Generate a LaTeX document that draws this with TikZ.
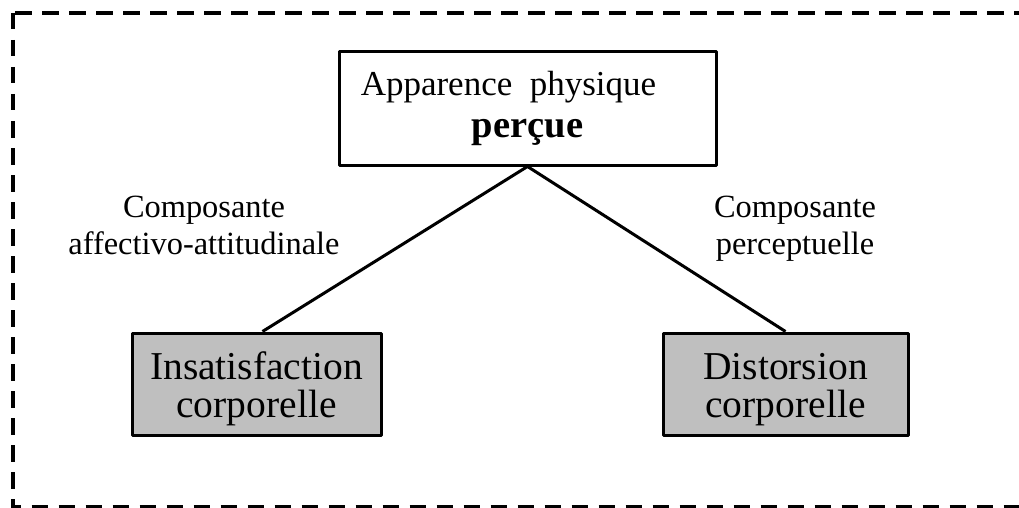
\documentclass[tikz,border=0pt]{standalone}
\usepackage{fontspec}
\setmainfont{Liberation Serif}
\begin{document}
\begin{tikzpicture}[x=1pt,y=-1pt,line join=round,
    boite/.style={draw,line width=3pt,inner sep=0pt,align=center},
    grise/.style={boite,fill=black!25,minimum height=102,font=\fontsize{39.5}{38}\selectfont},
    etiquette/.style={align=center,font=\fontsize{32.4}{37}\selectfont}]
    \def\w{249} % largeur des boites du bas
    \useasboundingbox (0,0) rectangle (1019,508);
    \begin{scope}
        \clip (0,0) rectangle (1019,508);
        \draw[line width=4pt,dash pattern=on 16.5pt off 10.5pt] (12.5,13) rectangle (1040,507);
    \end{scope}
    \node[boite,minimum width=377,minimum height=113,font=\fontsize{35}{42}\selectfont] (app) at (527.5,108.5)
        {\strut Apparence\ \ physique\kern38pt\\
         {\fontsize{38.5}{42}\selectfont\bfseries\strut perçue}};
    \node[grise,minimum width=\w] (ins) at (256.5,384) {\rule{0pt}{40.6pt}Insatisfaction\\corporelle\strut};
    \node[grise,minimum width=\w-4] (dis) at (785.5,384) {\rule{0pt}{40.6pt}Distorsion\\corporelle\strut};
    \node[etiquette] (aff) at (204,229) {\strut Composante\\\strut affectivo-attitudinale};
    \node[etiquette] (per) at (795,229) {\strut Composante\\\strut perceptuelle};
    \draw[line width=3pt] ([xshift=6]ins.north) -- (app.south) -- (dis.north);
\end{tikzpicture}
\end{document}
